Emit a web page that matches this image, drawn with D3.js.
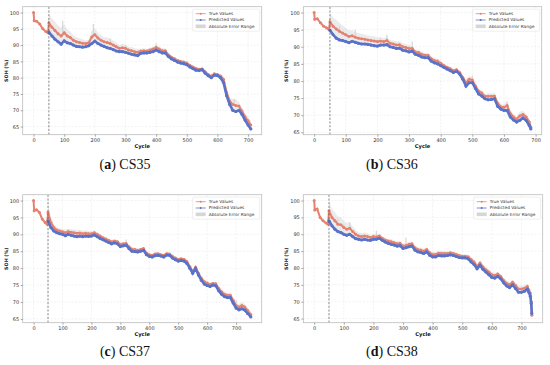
<!DOCTYPE html>
<html><head><meta charset="utf-8">
<script src="https://cdn.jsdelivr.net/npm/d3@7"></script>
<style>body{margin:0;background:#fff}svg{display:block}</style>
</head><body>
<svg id="c" width="550" height="365"></svg>
<script>
// ---------- DATA ----------
const yTicks = [65,70,75,80,85,90,95,100];
const xTicks = [0,100,200,300,400,500,600,700];
const legendLabels = ["True Values","Predicted Values","Absolute Error Range"];
const captions = [["a","CS35"],["b","CS36"],["c","CS37"],["d","CS38"]];
const splitCycle = 50;

const cs35Cycles = [0,2,10,20,30,40,47,50,60,70,80,90,100,110,120,130,140,150,160,170,180,190,200,210,220,230,240,250,260,270,280,290,300,310,320,330,340,350,360,370,380,390,400,410,420,430,440,450,460,470,480,490,500,510,520,530,540,550,560,570,580,590,600,610,620,630,640,650,660,670,680,690,700,709];
const cs35True = [100,97.5,97.3,96.5,95,94.2,93.8,96.8,95.5,94.5,93.5,92.8,93.8,92.8,92.3,91.5,91,90.8,90.6,90.5,90.7,92.5,93.2,92.2,91.5,91,90.8,90.5,90,89.5,89,89.2,89,88.5,88.3,88,87.8,88.2,88.3,88.2,88.5,88.8,89.3,88.8,88.3,88.3,87,86.3,85.8,85.3,85,84.8,84.5,83.8,83.3,82.8,82.6,82.7,81.8,81,80.5,81.2,81,80.5,79.5,75.5,72.8,71.8,71.5,71.3,69.8,68,66.8,65.5];
const cs35Pred = [null,null,null,null,null,null,null,94.0,92.8,91.8,91.0,90.3,91.3,90.7,90.5,90,89.6,89.5,89.4,89.5,89.8,90.5,91.2,90.5,90,89.6,89.2,89,88.6,88.2,88,88,87.8,87.5,87.2,87,86.8,87.5,87.6,87.6,87.8,88,88.5,88,87.6,87.6,86.5,85.8,85.3,84.8,84.5,84.3,84,83.3,82.8,82.3,82.2,82.5,81.4,80.6,80,80.8,80.7,80,78.5,74.5,71.8,70,69.6,70,68.8,67,65.5,64.3];
const cs35Spikes = [[95,97.5],[195,96.5],[250,92],[300,90],[400,90.5],[655,73.5]];

const cs36Cycles = [0,2,10,20,30,40,47,50,60,70,80,90,100,110,120,130,140,150,160,170,180,190,200,210,220,230,240,250,260,270,280,290,300,310,320,330,340,350,360,370,380,390,400,410,420,430,440,450,460,470,480,490,500,510,520,530,540,550,560,570,580,590,600,610,620,630,640,650,660,670,680,685];
const cs36True = [100,98,98.2,97,96,95.5,95,97.3,96,95.2,94.5,94,93.5,93,93.2,92.8,92.5,92.3,92.2,92,91.8,91.7,91.5,91.7,91.5,91.8,91,90.8,90.5,90.6,90,89.8,89.5,89.5,88.5,88.3,87.8,87.5,87.5,86.5,86,85.8,85.2,84.5,84,83.6,83,83.3,82.5,81,79.5,80.5,80.3,78.5,77,76.5,75.5,75.5,75.5,75.6,73.5,72.5,72.3,72.8,70.5,69.5,68.8,69.8,70.2,69.5,68,66.5];
const cs36Pred = [null,null,null,null,null,null,null,94.8,93.5,92.5,92,91.8,91.5,91.2,91.6,91.3,91,90.8,90.8,90.7,90.5,90.3,90.2,90.5,90.5,90.6,90,89.8,89.5,89.6,89,88.8,88.5,88.7,87.8,87.5,87,86.8,86.8,85.8,85.3,85,84.5,84,83.5,83,82.5,82.8,82,80.5,78.5,79.5,79.5,77.8,76.2,75.6,74.8,74.5,74.6,74.8,72.6,71.8,71.4,71.4,69.5,68.6,68,68.5,69.2,68.5,67,66];
const cs36Spikes = [[80,96],[130,95],[230,93.5],[310,91.5],[500,81.5],[610,74]];

const cs37Cycles = [0,2,10,20,30,40,47,50,60,70,80,90,100,110,120,130,140,150,160,170,180,190,200,210,220,230,240,250,260,270,280,290,300,310,320,330,340,350,360,370,380,390,400,410,420,430,440,450,460,470,480,490,500,510,520,530,540,550,560,570,580,590,600,610,620,630,640,650,660,670,680,690,700,710,720,730,740,751];
const cs37True = [100,97,97.3,96.5,94.5,93.5,93,96.5,93.5,92,91.3,91,90.8,90.5,90.8,90.6,90.5,90.3,90.4,90.2,90.3,90.2,90.2,90.5,90,89.5,89,88.6,88.2,87.8,88,87.8,87,87.2,87.3,86.3,85.6,85.5,85.3,85.5,85.8,84.5,84,83.8,84.2,84.3,84,83.8,84.3,84.2,83.5,83,82.6,82.8,82.6,82,80.5,79,80.3,78.5,77,76,75.6,75.2,75.5,75.4,74,73,72.3,72,72,70.5,69,68.5,69,68.5,67.5,66.3];
const cs37Pred = [null,null,null,null,null,null,null,94,92,91,90.5,90.2,90,89.6,90,89.7,89.5,89.3,89.5,89.3,89.5,89.4,89.5,89.8,89.3,88.8,88.4,88,87.6,87.2,87.5,87.2,86.4,86.6,86.8,85.8,85,84.9,84.8,85,85.3,84,83.5,83.3,83.7,83.8,83.6,83.3,83.9,83.8,83,82.5,82.1,82.3,82.1,81.4,80,78.5,79.9,78,76.4,75.3,74.9,74.6,75,74.8,73.3,72.3,71.6,71.3,71.3,69.7,68.2,67.7,68,67.6,66.6,65.6];
const cs37Spikes = [[120,91.5],[320,88.5],[550,78],[700,70.5]];

const cs38Cycles = [0,2,10,20,30,40,47,50,60,70,80,90,100,110,120,130,140,150,160,170,180,190,200,210,220,230,240,250,260,270,280,290,300,310,320,330,340,350,360,370,380,390,400,410,420,430,440,450,460,470,480,490,500,510,520,530,540,550,560,570,580,590,600,610,620,630,640,650,660,670,680,690,700,710,720,725,730,733,735];
const cs38True = [100,97.2,97.5,95,94,93.3,93,97,95,94,93,92.8,92,91.5,91.8,90.8,90,89.5,89.3,89.5,89.3,89,89.3,89.2,89.5,88.8,88.3,88,87.8,87.5,87.2,87.3,86.5,86.7,87,87.2,86,85.5,85.3,85,85.5,84.5,84,84,84.4,84.3,84.3,84.3,84.5,84.3,84,83.7,83.5,83.5,83.3,82.5,81.8,80.5,81.5,80.3,79.5,78.8,78,77.8,78.2,77.5,76.3,75.5,75,75.8,74.8,73.8,73.8,74,74.5,73.5,72.5,70,66];
const cs38Pred = [null,null,null,null,null,null,null,94,92.5,91.5,90.8,90.5,90,89.7,90,89.3,88.7,88.5,88.3,88.5,88.3,88.2,88.5,88.5,88.8,88.2,87.7,87.3,87,86.8,86.5,86.6,85.8,86,86.3,86.5,85.3,84.8,84.6,84.3,84.8,83.8,83.3,83.3,83.7,83.6,83.6,83.7,83.9,83.7,83.4,83.1,83,83,82.7,81.8,81,79.8,80.8,79.6,78.8,78,77.2,77,77.5,76.8,75.6,74.7,74.2,75,73.9,72.8,72.8,73.1,73.7,72.8,71.6,69.5,66.5];
const cs38Spikes = [[80,94.5],[100,93],[120,93.5],[210,91],[310,89],[720,75]];

// ---------- LAYOUT ----------
const panels = [
  {cyc:cs35Cycles, tru:cs35True, pred:cs35Pred, spk:cs35Spikes, L:22.7, R:261.7, T:6.7, B:134.7, cap:captions[0], capX:125, capY:168.5},
  {cyc:cs36Cycles, tru:cs36True, pred:cs36Pred, spk:cs36Spikes, L:303.3, R:541.7, T:6.7, B:134.7, cap:captions[1], capX:392, capY:168.5},
  {cyc:cs37Cycles, tru:cs37True, pred:cs37Pred, spk:cs37Spikes, L:22.7, R:261.7, T:194.7, B:322.7, cap:captions[2], capX:125, capY:356},
  {cyc:cs38Cycles, tru:cs38True, pred:cs38Pred, spk:cs38Spikes, L:303.3, R:542.7, T:194.7, B:322.7, cap:captions[3], capX:392, capY:356}
];
const RED = "#e5826f", BLUE = "#5a72c8", GRAY = "#d2d2d2";
const svg = d3.select("#c");
const tickFont = "DejaVu Sans, sans-serif";

panels.forEach((p,pi)=>{
  const n = p.cyc.length;
  const xmin = 0, xmax = d3.max(p.cyc);
  const xpad = 0.05*(xmax-xmin);
  const lows = [], highs = [];
  p.cyc.forEach((c,i)=>{
    const t=p.tru[i], q=p.pred[i];
    const e = q==null?0:Math.abs(t-q);
    lows.push(Math.min(t-e, q==null?t:q)); highs.push(t+e);
  });
  const ymin = d3.min(lows), ymax = Math.max(d3.max(highs), d3.max(p.spk,d=>d[1]));
  const ypad = 0.05*(ymax-ymin);
  const x = d3.scaleLinear().domain([xmin-xpad, xmax+xpad]).range([p.L,p.R]);
  const y = d3.scaleLinear().domain([ymin-ypad, ymax+ypad]).range([p.B,p.T]);
  const g = svg.append("g");
  const clipId = "clip"+pi;
  g.append("clipPath").attr("id",clipId).append("rect").attr("x",p.L).attr("y",p.T).attr("width",p.R-p.L).attr("height",p.B-p.T);

  // grid
  g.selectAll(".gx").data(xTicks).join("line").attr("x1",d=>x(d)).attr("x2",d=>x(d)).attr("y1",p.T).attr("y2",p.B)
    .attr("stroke","#e4e4e4").attr("stroke-width",0.5).attr("stroke-dasharray","2,1.5");
  g.selectAll(".gy").data(yTicks).join("line").attr("y1",d=>y(d)).attr("y2",d=>y(d)).attr("x1",p.L).attr("x2",p.R)
    .attr("stroke","#e4e4e4").attr("stroke-width",0.5).attr("stroke-dasharray","2,1.5");

  const plot = g.append("g").attr("clip-path",`url(#${clipId})`);
  // error band
  const idx = d3.range(n).filter(i=>p.pred[i]!=null);
  const area = d3.area().x(i=>x(p.cyc[i])).y0(i=>y(p.tru[i]-Math.abs(p.tru[i]-p.pred[i]))).y1(i=>y(p.tru[i]+Math.abs(p.tru[i]-p.pred[i])));
  plot.append("path").attr("d",area(idx)).attr("fill",GRAY).attr("opacity",0.45);
  plot.selectAll(".spk").data(p.spk).join("line")
    .attr("x1",d=>x(d[0])).attr("x2",d=>x(d[0])).attr("y1",d=>{
      const j = d3.minIndex(p.cyc,c=>Math.abs(c-d[0])); return y(p.tru[j]);})
    .attr("y2",d=>y(d[1])).attr("stroke",GRAY).attr("stroke-width",1.2).attr("opacity",0.9);

  // true line
  const allIdx = d3.range(n);
  const line = arr=>d3.line().defined(i=>arr[i]!=null).x(i=>x(p.cyc[i])).y(i=>y(arr[i]));
  plot.append("path").attr("d",line(p.tru)(allIdx)).attr("fill","none").attr("stroke",RED).attr("stroke-width",2);
  plot.selectAll(".tm").data(allIdx).join("circle").attr("cx",i=>x(p.cyc[i])).attr("cy",i=>y(p.tru[i])).attr("r",1.5).attr("fill",RED);
  // predicted
  plot.append("path").attr("d",line(p.pred)(idx)).attr("fill","none").attr("stroke",BLUE).attr("stroke-width",2.6);
  plot.selectAll(".pm").data(idx).join("circle").attr("cx",i=>x(p.cyc[i])).attr("cy",i=>y(p.pred[i])).attr("r",1.6).attr("fill",BLUE);

  // split line
  plot.append("line").attr("x1",x(splitCycle)).attr("x2",x(splitCycle)).attr("y1",p.T).attr("y2",p.B)
    .attr("stroke","#555").attr("stroke-width",0.7).attr("stroke-dasharray","2.2,1.5");

  // frame
  g.append("rect").attr("x",p.L).attr("y",p.T).attr("width",p.R-p.L).attr("height",p.B-p.T)
    .attr("fill","none").attr("stroke","#bdbdbd").attr("stroke-width",0.8);

  // axes
  const xa = g.append("g").attr("transform",`translate(0,${p.B})`)
    .call(d3.axisBottom(x).tickValues(xTicks).tickSize(2).tickPadding(1.5));
  const ya = g.append("g").attr("transform",`translate(${p.L},0)`)
    .call(d3.axisLeft(y).tickValues(yTicks).tickSize(2).tickPadding(1.5));
  [xa,ya].forEach(a=>{
    a.select(".domain").remove();
    a.selectAll(".tick line").attr("stroke","#555").attr("stroke-width",0.5);
    a.selectAll("text").attr("font-family",tickFont).attr("font-size",5).attr("fill","#333");
  });
  g.append("text").attr("x",(p.L+p.R)/2).attr("y",p.B+13).attr("text-anchor","middle")
    .attr("font-family",tickFont).attr("font-weight","bold").attr("font-size",5.2).attr("fill","#111").text("Cycle");
  g.append("text").attr("transform",`translate(${p.L-15},${(p.T+p.B)/2}) rotate(-90)`).attr("text-anchor","middle")
    .attr("font-family",tickFont).attr("font-weight","bold").attr("font-size",4.8).attr("fill","#111").text("SOH (%)");

  // legend
  const lx = p.R-69, ly = p.T+2.5;
  const lg = g.append("g").attr("transform",`translate(${lx},${ly})`);
  lg.append("rect").attr("width",67).attr("height",22).attr("rx",1.2).attr("fill","#fff").attr("fill-opacity",0.85)
    .attr("stroke","#dcdcdc").attr("stroke-width",0.5);
  const cols=[RED,BLUE,GRAY];
  legendLabels.forEach((t,k)=>{
    const yy = 4.5+k*6.3;
    if(k<2){
      lg.append("line").attr("x1",3).attr("x2",13).attr("y1",yy).attr("y2",yy).attr("stroke",cols[k]).attr("stroke-width",0.8);
      lg.append("circle").attr("cx",8).attr("cy",yy).attr("r",1).attr("fill",cols[k]);
    } else {
      lg.append("rect").attr("x",3).attr("y",yy-1.8).attr("width",10).attr("height",3.6).attr("fill",GRAY).attr("opacity",0.9);
    }
    lg.append("text").attr("x",16).attr("y",yy+1.5).attr("font-family",tickFont).attr("font-size",4.3).attr("fill","#333").text(t);
  });

  // caption
  const cap = svg.append("text").attr("x",p.capX).attr("y",p.capY).attr("text-anchor","middle")
    .attr("font-family","Liberation Serif, serif").attr("font-size",14).attr("fill","#111");
  cap.append("tspan").text("(");
  cap.append("tspan").attr("font-weight","bold").text(p.cap[0]);
  cap.append("tspan").text(") " + p.cap[1]);
});
</script>
</body></html>
